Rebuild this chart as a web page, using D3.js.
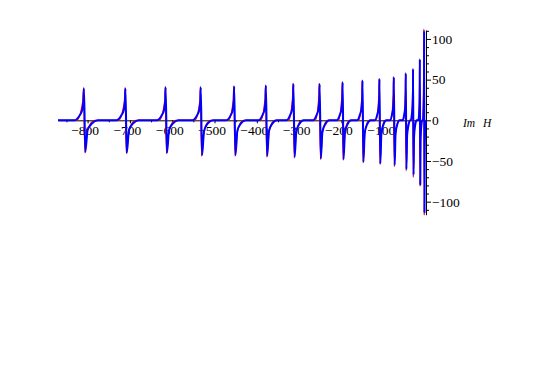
<!DOCTYPE html>
<html>
<head>
<meta charset="utf-8">
<script src="https://cdn.jsdelivr.net/npm/d3@7"></script>
<style>
  body { margin: 0; background: #fff; }
  text { font-family: "Liberation Serif", "DejaVu Serif", serif; }
</style>
</head>
<body>
<script>
'use strict';

// tick values
const xTicks = [-800, -700, -600, -500, -400, -300, -200, -100];
const xMinor = [-850, -750, -650, -550, -450, -350, -250, -150, -50];
const yTicks = [-100, -50, 0, 50, 100];
const yMinor = [-110, -90, -80, -70, -60, -40, -30, -20, -10, 10, 20, 30, 40, 60, 70, 80, 90, 110];

// blue curve (Im H), [x, y] read spike by spike
const bluePts = [
  [-870, 0],
  [-831, 0], [-819, 6], [-813, 12], [-810, 23], [-808.5, 39], [-805.5, -39], [-800, -12], [-790, -4], [-776, 0],
  [-732, 0], [-720.5, 6], [-714.8, 12], [-711.8, 23], [-710.5, 39], [-707.5, -40], [-702.1, -12], [-692.9, -4], [-679.1, 0],
  [-636, 0], [-625, 6], [-619.5, 12], [-616.6, 24], [-615.5, 40.5], [-612.5, -40], [-607.4, -12], [-598.6, -4], [-585.4, 0],
  [-552, 0], [-541.5, 6], [-536.3, 12], [-533.5, 24], [-532.5, 40.5], [-529.5, -43], [-524.7, -13], [-516.3, -4], [-503.7, 0],
  [-472, 0], [-462, 6], [-457, 12.5], [-454.4, 25], [-453.5, 41.5], [-450.5, -43], [-446, -13], [-438, -4], [-426, 0],
  [-396, 0], [-386.5, 6.4], [-381.8, 12.8], [-379.3, 25.6], [-378.5, 42.7], [-375.5, -44], [-371.3, -13.2], [-363.7, -4.4], [-352.3, 0],
  [-330, 0], [-321, 6.7], [-316.5, 13.4], [-314.2, 26.8], [-313.5, 44.7], [-310.5, -45], [-306.6, -13.5], [-299.4, -4.5], [-288.6, 0],
  [-267, 0], [-258.5, 6.7], [-254.3, 13.4], [-252, 26.8], [-251.5, 44.7], [-248.5, -47], [-244.9, -14], [-238.1, -4.7], [-227.9, 0],
  [-211, 0], [-203.5, 7], [-199.8, 14], [-197.8, 28], [-197, 46.7], [-195, -48], [-191.5, -14.4], [-185.5, -4.8], [-176.5, 0],
  [-163, 0], [-156, 7.3], [-152.5, 14.6], [-150.7, 29.3], [-150, 48.8], [-148, -51], [-144.8, -15.3], [-139.2, -5.1], [-130.8, 0],
  [-121, 0], [-115, 7.6], [-112, 15.2], [-110.4, 30.5], [-110, 50.8], [-108, -53], [-105.4, -15.9], [-100.6, -5.3], [-93.4, 0],
  [-85, 0], [-80, 8], [-77.5, 16], [-76.2, 32], [-76, 53], [-74, -55], [-72, -16.5], [-68, -5.5], [-62, 0],
  [-55, 0], [-51, 8.7], [-49, 17.3], [-48, 34.6], [-47.7, 57.7], [-46.3, -60], [-44.6, -18], [-41.4, -6], [-36.6, 0],
  [-36, 0], [-33, 9.5], [-31.5, 19], [-30.7, 38], [-30.6, 63], [-29.4, -67], [-28.2, -20], [-25.8, -6.7], [-22.2, 0],
  [-18, 0], [-16, 11], [-15, 22.5], [-14.7, 45], [-14.5, 75], [-13.5, -79], [-12.8, -24], [-11.2, -8], [-8.8, 0],
  [-7, 0], [-5.5, 16], [-4.75, 33], [-4.5, 66], [-4.4, 110], [-3.6, -113], [-3.1, -34], [-1.9, -11], [0, 0]
];

// red curve, mostly hidden under the blue one
const redPts = [
  [-870, 0],
  [-826, 0], [-811.5, 23], [-809.5, 40], [-806.5, -40], [-800.5, -12], [-783, 0],
  [-727, 0], [-713, 23], [-711.5, 40], [-708.5, -41], [-702.5, -12], [-686, 0],
  [-631, 0], [-617.5, 24], [-616.5, 41], [-613.5, -41], [-607.5, -12], [-592, 0],
  [-547, 0], [-534.5, 24], [-533.5, 41], [-530.5, -44], [-524.5, -13], [-510, 0],
  [-467, 0], [-455.5, 25], [-454.5, 42], [-451.5, -44], [-445.5, -13], [-432, 0],
  [-391, 0], [-380.5, 26], [-379.5, 43], [-376.5, -45], [-370.5, -13], [-358, 0],
  [-325, 0], [-315.5, 27], [-314.5, 45], [-311.5, -46], [-306.5, -13.5], [-294, 0],
  [-262, 0], [-253.5, 27], [-252.5, 45], [-249.5, -48], [-244.5, -14], [-233, 0],
  [-207, 0], [-199, 28], [-198, 47], [-196, -49], [-191.5, -14], [-181, 0],
  [-159, 0], [-151.5, 29], [-151, 49], [-149, -52], [-144.5, -15], [-135, 0],
  [-118, 0], [-111.5, 30], [-111, 51], [-109, -54], [-105.5, -16], [-97, 0],
  [-83, 0], [-77.5, 32], [-77, 53], [-75, -57], [-72, -17], [-65, 0],
  [-53, 0], [-48.8, 35], [-48.5, 58], [-47, -62], [-44.5, -18], [-39, 0],
  [-35, 0], [-31.5, 38], [-31.3, 63], [-30.2, -70], [-28.2, -20], [-24, 0],
  [-17.5, 0], [-15.3, 45], [-15.2, 75], [-14.2, -81], [-12.8, -24], [-10, 0],
  [-8, 0], [-5.2, 66], [-5, 112], [-4.2, -116], [-3.2, -34], [-1, 0]
];

(function() {

  let svg = "";

  window.onload = function() {
    svg = d3.select('body')
      .append('svg')
      .attr('width', 545)
      .attr('height', 382);

    svg.append('rect')
      .attr('width', 545)
      .attr('height', 382)
      .attr('fill', '#fff');

    let x = d3.scaleLinear().domain([-870, 0]).range([58, 426]);
    let y = d3.scaleLinear().domain([-116, 111]).range([214.7, 30]);

    drawAxes(x, y);
    drawCurves(x, y);
  }

  function drawAxes(x, y) {
    // minor x ticks
    svg.append('g')
      .attr('transform', `translate(0, ${y(0)})`)
      .call(d3.axisBottom(x).tickValues(xMinor).tickSize(2).tickFormat(''))
      .call(g => g.select('.domain').remove());

    // x axis with labels
    let gx = svg.append('g')
      .attr('transform', `translate(0, ${y(0)})`)
      .attr('font-family', '"Liberation Serif", serif')
      .call(d3.axisBottom(x).tickValues(xTicks).tickSize(3).tickSizeOuter(0).tickPadding(2));
    gx.attr('font-family', '"Liberation Serif", serif');
    gx.selectAll('text')
      .attr('dx', '-3')
      .style('font-size', '13.5px')
      .style('font-family', '"Liberation Serif", serif')
      .attr('fill', '#000');

    // minor y ticks
    svg.append('g')
      .attr('transform', `translate(${x(0)}, 0)`)
      .call(d3.axisRight(y).tickValues(yMinor).tickSize(3).tickFormat(''))
      .call(g => g.select('.domain').remove());

    // y axis with labels
    let gy = svg.append('g')
      .attr('transform', `translate(${x(0)}, 0)`)
      .call(d3.axisRight(y).tickValues(yTicks).tickSize(5).tickSizeOuter(0).tickPadding(1));
    gy.attr('font-family', '"Liberation Serif", serif');
    gy.selectAll('text')
      .style('font-size', '13.5px')
      .style('font-family', '"Liberation Serif", serif')
      .attr('fill', '#000');

    // axis label
    svg.append('text')
      .attr('x', 463)
      .attr('y', 127)
      .style('font-size', '11.5px')
      .style('font-style', 'italic')
      .text('Im');
    svg.append('text')
      .attr('x', 483)
      .attr('y', 127)
      .style('font-size', '11.5px')
      .style('font-style', 'italic')
      .text('H');
  }

  function drawCurves(x, y) {
    let line = d3.line()
      .x(d => x(d[0]))
      .y(d => y(d[1]))
      .curve(d3.curveMonotoneX);

    svg.append('path')
      .datum(redPts)
      .attr('d', line)
      .attr('fill', 'none')
      .attr('stroke', '#ff0000')
      .attr('stroke-width', 1.3)
      .attr('stroke-linejoin', 'round');

    svg.append('path')
      .datum(bluePts)
      .attr('d', line)
      .attr('fill', 'none')
      .attr('stroke', '#0000ff')
      .attr('stroke-width', 2)
      .attr('stroke-linejoin', 'round');
  }

})();
</script>
</body>
</html>
